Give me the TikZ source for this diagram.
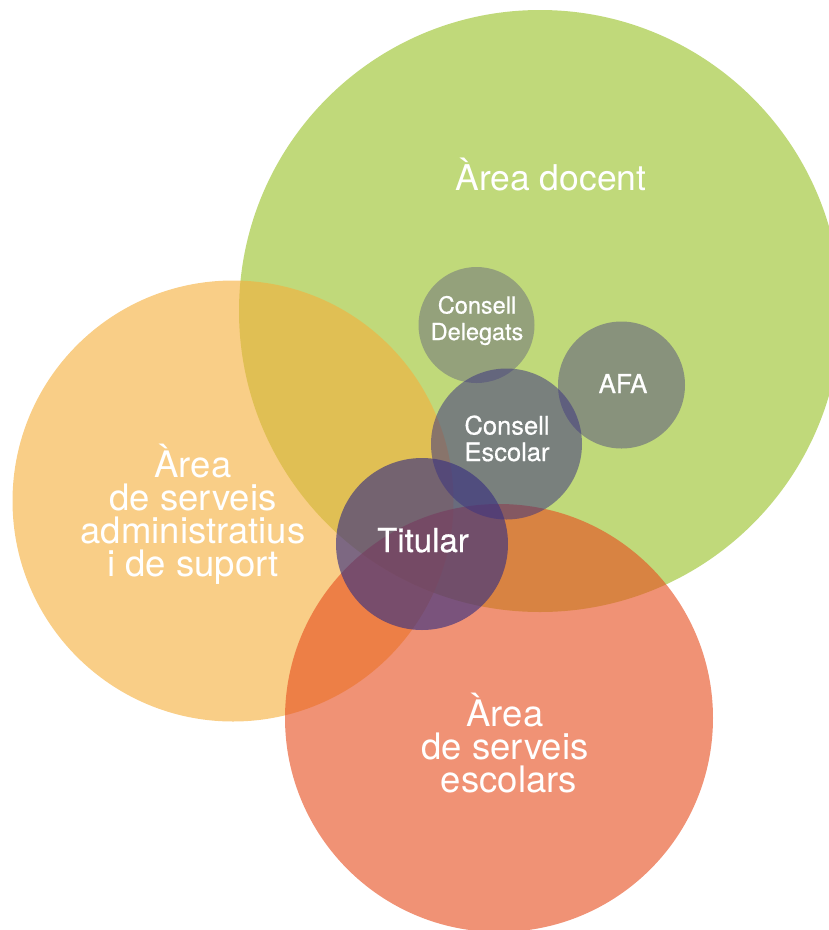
\documentclass[tikz,border=0pt]{standalone}
\usepackage{fontspec}
\setmainfont{TeX Gyre Heros}
\newfontfamily\medfont{TeX Gyre Heros}[FakeBold=0.6]
\definecolor{docentc}{HTML}{C0D97A}
\definecolor{adminc}{HTML}{F5B03D}
\definecolor{escolc}{HTML}{E74F20}
\definecolor{smallc}{HTML}{3B3280}
\tikzset{
  disc/.style={circle, draw=none, inner sep=0pt, outer sep=0pt},
  bigtxt/.style={text=white, font=\fontsize{36.5}{33}\selectfont, align=center, anchor=base, inner sep=0pt},
  smalltxt/.style={text=white, align=center, anchor=base, inner sep=0pt}
}
\begin{document}
\begin{tikzpicture}[x=1pt,y=-1pt]
\useasboundingbox (0,0) rectangle (829,930);
\begin{scope}
\clip (0,0) rectangle (829,930);
% big areas
\node[disc, fill=docentc, minimum size=602pt] (docent) at (540,311) {};
\node[disc, fill=adminc, fill opacity=0.62, minimum size=441pt] (admin) at (233,501) {};
\node[disc, fill=escolc, fill opacity=0.62, minimum size=428pt] (escol) at (499,718) {};
% small bodies
\node[disc, fill=smallc, fill opacity=0.33, minimum size=116pt] (cdel) at (476.5,325) {};
\node[disc, fill=smallc, fill opacity=0.42, minimum size=127pt] (afa) at (621.5,385) {};
\node[disc, fill=smallc, fill opacity=0.53, minimum size=151pt] (cesc) at (506.5,444) {};
\node[disc, fill=smallc, fill opacity=0.65, minimum size=172pt] (tit) at (422,544) {};
\end{scope}
% labels (anchor = baseline of the last line)
\node[bigtxt, font=\fontsize{35.5}{33}\selectfont] (tdocent) at (551,190) {Àrea docent};
\node[bigtxt] (tadmin) at (193,576) {Àrea\\de serveis\\administratius\\i de suport};
\node[bigtxt] (tescol) at (505,792) {Àrea\\de serveis\\\hspace*{8pt}escolars};
\node[smalltxt, font=\medfont\fontsize{23.5}{26.5}\selectfont] (tcdel) at (477,340) {Consell\\Delegats};
\node[smalltxt, font=\medfont\fontsize{26}{26}\selectfont] (tafa) at (623,393) {AFA};
\node[smalltxt, font=\medfont\fontsize{25.5}{26.5}\selectfont] (tcesc) at (507,461) {Consell\\Escolar};
\node[smalltxt, font=\medfont\fontsize{33}{33}\selectfont] (ttit) at (423,552) {Titular};
\end{tikzpicture}
\end{document}
